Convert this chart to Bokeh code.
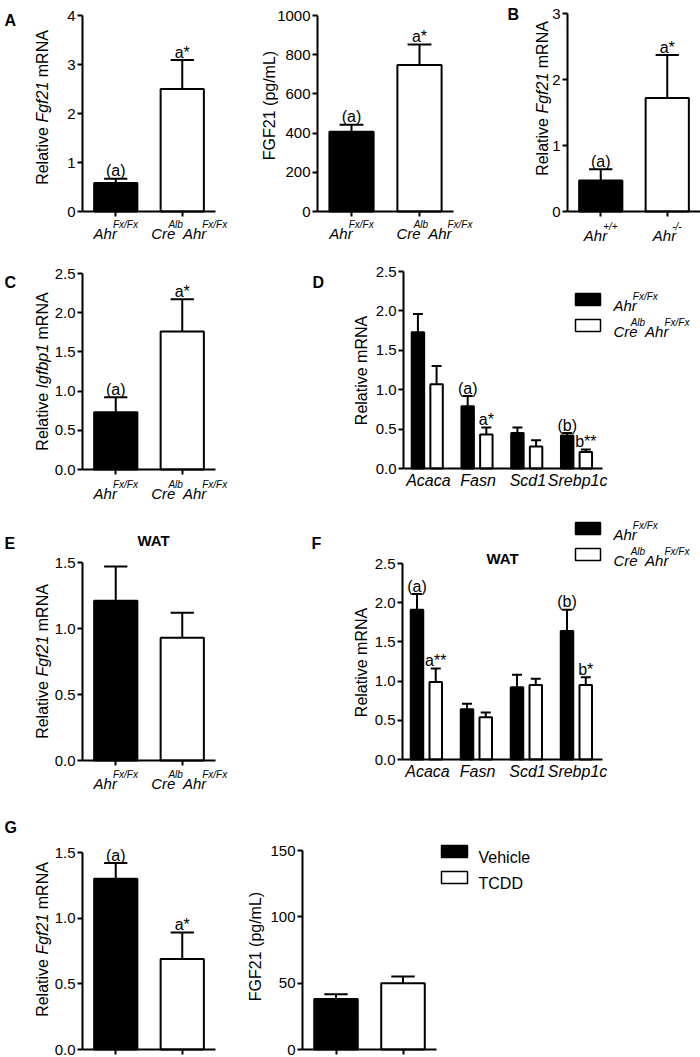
import math
from bokeh.plotting import figure
from bokeh.models import Range1d, FixedTicker, PrintfTickFormatter, CustomJSTickFormatter, Label
from bokeh.layouts import row, column
from bokeh.embed import file_html
from bokeh.resources import INLINE

FONT = "Liberation Sans"

# ---------------- data ----------------
# genotype tick labels as (base, superscript) pieces
lbl_ctrl = [("Ahr", "Fx/Fx")]
lbl_cko = [("Cre", "Alb"), ("Ahr", "Fx/Fx")]
lbl_wt = [("Ahr", "+/+")]
lbl_null = [("Ahr", "-/-")]
genes = ["Acaca", "Fasn", "Scd1", "Srebp1c"]
treat = ["Vehicle", "TCDD"]

# A: liver Fgf21 mRNA / serum FGF21
a1_mean = [0.58, 2.50]
a1_err = [0.09, 0.59]
a1_sig = ["(a)", "a*"]
a2_mean = [407, 748]
a2_err = [36, 104]
a2_sig = ["(a)", "a*"]
# B
b_mean = [0.47, 1.72]
b_err = [0.17, 0.65]
b_sig = ["(a)", "a*"]
# C
c_mean = [0.73, 1.76]
c_err = [0.19, 0.41]
c_sig = ["(a)", "a*"]
# D (liver lipogenic genes)
d_fx = [1.73, 0.79, 0.45, 0.42]
d_fx_err = [0.23, 0.13, 0.07, 0.03]
d_cko = [1.07, 0.43, 0.28, 0.21]
d_cko_err = [0.23, 0.09, 0.08, 0.03]
d_fx_sig = ["", "(a)", "", "(b)"]
d_cko_sig = ["", "a*", "", "b**"]
# E (WAT Fgf21)
e_mean = [1.21, 0.93]
e_err = [0.26, 0.19]
# F (WAT lipogenic genes)
f_fx = [1.91, 0.64, 0.92, 1.64]
f_fx_err = [0.20, 0.07, 0.16, 0.27]
f_cko = [0.99, 0.54, 0.95, 0.95]
f_cko_err = [0.17, 0.06, 0.08, 0.10]
f_fx_sig = ["(a)", "", "", "(b)"]
f_cko_sig = ["a**", "", "", "b*"]
# G (TCDD)
g1_mean = [1.30, 0.69]
g1_err = [0.12, 0.20]
g1_sig = ["(a)", "a*"]
g2_mean = [38, 50]
g2_err = [3.7, 5.0]

# ---------------- helpers ----------------
ADV = {" ": 278, "(": 333, ")": 333, "*": 389, "+": 584, "-": 333, "/": 278, ".": 278,
       "A": 667, "C": 722, "D": 722, "F": 611, "G": 778, "I": 278, "L": 556, "N": 722,
       "R": 722, "S": 667, "T": 611, "V": 667, "W": 944,
       "a": 556, "b": 556, "c": 500, "e": 556, "f": 278, "g": 556, "h": 556, "i": 222,
       "l": 222, "m": 833, "n": 556, "p": 556, "r": 333, "s": 500, "t": 278, "v": 500, "x": 500}


def tw(text, size):
    return sum(ADV.get(ch, 556) for ch in text) * size / 1000.0


def label(p, x, y, text, size, style="normal", align="left", angle=0.0):
    p.add_layout(Label(x=x, y=y, text=text, angle=angle, text_font=FONT,
                       text_font_size=f"{size}px", text_font_style=style,
                       text_align=align, text_baseline="alphabetic", text_color="black"))


class Panel:
    """One sub-chart; geometry given in page pixels.
    The frame fills the whole figure; axes sit at data 0 via fixed_location."""

    def __init__(self, box, axes, nx, ymax, ystep, yfmt, names=None):
        fx0, fy0, fx1, fy1 = box
        axl, axt, axr, axb = axes
        self.axl, self.axt, self.axb = axl, axt, axb
        self.ppx = (axr - axl) / nx
        self.ppy = (axb - axt) / ymax
        p = figure(width=fx1 - fx0, height=fy1 - fy0, title=None, output_backend="svg",
                   toolbar_location=None,
                   x_range=Range1d((fx0 - axl) / self.ppx, (fx1 - axl) / self.ppx),
                   y_range=Range1d((axb - fy1) / self.ppy, (axb - fy0) / self.ppy),
                   min_border_left=0, min_border_right=0, min_border_top=0,
                   min_border_bottom=0)
        p.background_fill_color = "white"
        p.border_fill_color = "white"
        p.outline_line_color = None
        p.xgrid.visible = False
        p.ygrid.visible = False
        for ax in (p.xaxis[0], p.yaxis[0]):
            ax.fixed_location = 0
            ax.axis_line_width = 2
            ax.axis_line_color = "black"
            ax.major_tick_line_width = 2
            ax.major_tick_line_color = "black"
            ax.major_tick_in = 0
            ax.minor_tick_line_color = None
            ax.major_label_text_font = FONT
            ax.major_label_text_color = "black"
        nt = int(round(ymax / ystep))
        ya = p.yaxis[0]
        ya.bounds = (0, ymax)
        ya.ticker = FixedTicker(ticks=[i * ystep for i in range(nt + 1)])
        ya.formatter = PrintfTickFormatter(format=yfmt)
        ya.major_tick_out = 5
        ya.major_label_standoff = 2
        ya.major_label_text_font_size = "15px"
        xa = p.xaxis[0]
        xa.bounds = (0, nx)
        xa.ticker = FixedTicker(ticks=[i + 0.5 for i in range(nx)])
        if names:
            xa.formatter = CustomJSTickFormatter(args=dict(names=names),
                                                 code="return names[Math.floor(tick)];")
            xa.major_label_text_font_style = "italic"
            xa.major_label_text_font_size = "16px"
            xa.major_tick_out = 0
            xa.major_tick_line_color = None
            xa.major_label_standoff = 3
        else:
            xa.formatter = CustomJSTickFormatter(code="return '';")
            xa.major_label_text_font_size = "1px"
            xa.major_label_standoff = 0
            xa.major_tick_out = 5
        self.p = p

    def X(self, rx):
        return (rx - self.axl) / self.ppx

    def Y(self, ry):
        return (self.axb - ry) / self.ppy

    def rx(self, x):
        return self.axl + x * self.ppx


BW2, CAP2 = 0.65, 0.35
BWG, CAPG = 0.25, 0.2
OFF_A, OFF_B = -0.21, 0.165
KERN = {"Cre": 7.0}   # superscript tucked against the italic base text
KERN_DEFAULT = 4.0


def draw_bars(pn, xs, means, errs, fill, bw, cap):
    p = pn.p
    tops = [m + e for m, e in zip(means, errs)]
    p.vbar(x=xs, top=means, bottom=0, width=bw, fill_color=fill,
           line_color="black", line_width=2)
    p.segment(x0=xs, y0=means, x1=xs, y1=tops, line_color="black", line_width=2)
    p.segment(x0=[x - cap / 2 for x in xs], y0=tops, x1=[x + cap / 2 for x in xs], y1=tops,
              line_color="black", line_width=2)
    return tops


def sig_labels(pn, xs, tops, texts):
    for x, t, s in zip(xs, tops, texts):
        if s:
            label(pn.p, x, t + 8 / pn.ppy, s, 16, align="center")


def two_bars(pn, means, errs, sig=None):
    xs = [0.5, 1.5]
    tops = draw_bars(pn, xs, means, errs, ["black", "white"], BW2, CAP2)
    if sig:
        sig_labels(pn, xs, tops, sig)


def grouped(pn, s1, e1, s2, e2, sig1, sig2):
    xs1 = [i + 0.5 + OFF_A for i in range(len(s1))]
    xs2 = [i + 0.5 + OFF_B for i in range(len(s2))]
    t1 = draw_bars(pn, xs1, s1, e1, "black", BWG, CAPG)
    t2 = draw_bars(pn, xs2, s2, e2, "white", BWG, CAPG)
    sig_labels(pn, xs1, t1, sig1)
    sig_labels(pn, xs2, t2, sig2)


def geno_width(parts, size=15, sup=10):
    return sum(tw(b, size) - KERN.get(b, KERN_DEFAULT) + tw(s, sup) for b, s in parts)


def geno_left(pn, parts, x_ref, base_ref, size=15, sup=10, rise=9):
    x = x_ref
    for b, s in parts:
        label(pn.p, pn.X(x), pn.Y(base_ref), b, size, "italic")
        x += tw(b, size) - KERN.get(b, KERN_DEFAULT)
        label(pn.p, pn.X(x), pn.Y(base_ref - rise), s, sup, "italic")
        x += tw(s, sup)


def geno_center(pn, parts, xdata, below, shift=0.0, size=15, sup=10):
    total = geno_width(parts, size, sup)
    geno_left(pn, parts, pn.rx(xdata) - total / 2 + shift, pn.axb + below, size, sup)


def vtitle(pn, base_x, center_y, parts, size=16):
    total = sum(tw(t, size) for t, _ in parts)
    y = center_y + total / 2
    for t, st in parts:
        lead = len(t) - len(t.lstrip())
        y -= tw(t[:lead], size)
        label(pn.p, pn.X(base_x), pn.Y(y), t.strip(), size, st, angle=math.pi / 2)
        y -= tw(t[lead:], size)


def letter(pn, text, x_ref, base_ref):
    label(pn.p, pn.X(x_ref), pn.Y(base_ref), text, 16, "bold")


def swatch(pn, l, t, r, b, fill):
    pn.p.quad(left=pn.X(l), right=pn.X(r), top=pn.Y(t), bottom=pn.Y(b),
              fill_color=fill, line_color="black", line_width=1.5)


FGF21_T = [("Relative ", "normal"), ("Fgf21", "italic"), (" mRNA", "normal")]
IGF_T = [("Relative ", "normal"), ("Igfbp1", "italic"), (" mRNA", "normal")]
PROT_T = [("FGF21 (pg/mL)", "normal")]
REL_T = [("Relative mRNA", "normal")]

# ---------------- row 1 ----------------
A1 = Panel((0, 0, 253, 262), (82, 15, 215, 211), 2, 4, 1, "%d")
two_bars(A1, a1_mean, a1_err, a1_sig)
vtitle(A1, 42, 107, FGF21_T)
geno_center(A1, lbl_ctrl, 0.5, 22)
geno_center(A1, lbl_cko, 1.5, 22, shift=7)
letter(A1, "A", 4, 20)

A2 = Panel((253, 0, 498, 262), (317, 15, 453, 211), 2, 1000, 200, "%d")
two_bars(A2, a2_mean, a2_err, a2_sig)
vtitle(A2, 269, 105, PROT_T)
geno_center(A2, lbl_ctrl, 0.5, 22)
geno_center(A2, lbl_cko, 1.5, 22, shift=15)

B = Panel((498, 0, 700, 262), (567, 13, 700, 211), 2, 3, 1, "%d")
two_bars(B, b_mean, b_err, b_sig)
vtitle(B, 542, 98, FGF21_T)
geno_center(B, lbl_wt, 0.5, 24)
geno_center(B, lbl_null, 1.5, 24)
letter(B, "B", 507, 14)

# ---------------- row 2 ----------------
C = Panel((0, 262, 308, 508), (82, 273, 215, 469), 2, 2.5, 0.5, "%.1f")
two_bars(C, c_mean, c_err, c_sig)
vtitle(C, 42, 371, IGF_T)
geno_center(C, lbl_ctrl, 0.5, 24)
geno_center(C, lbl_cko, 1.5, 24, shift=7)
letter(C, "C", 4, 282)

D = Panel((308, 262, 700, 508), (403, 271, 602, 468), 4, 2.5, 0.5, "%.1f", names=genes)
grouped(D, d_fx, d_fx_err, d_cko, d_cko_err, d_fx_sig, d_cko_sig)
vtitle(D, 361, 370, REL_T)
letter(D, "D", 312, 282)
swatch(D, 575, 293, 600, 305, "black")
swatch(D, 575, 319, 600, 331, "white")
geno_left(D, lbl_ctrl, 613, 305)
geno_left(D, lbl_cko, 613, 331)

# ---------------- row 3 ----------------
E = Panel((0, 508, 308, 800), (82, 562, 215, 760), 2, 1.5, 0.5, "%.1f")
two_bars(E, e_mean, e_err)
vtitle(E, 42, 661, FGF21_T)
geno_center(E, lbl_ctrl, 0.5, 23)
geno_center(E, lbl_cko, 1.5, 23, shift=7)
label(E.p, E.X(153), E.Y(540), "WAT", 15, "bold", align="center")
letter(E, "E", 4, 543)

F = Panel((308, 508, 700, 800), (402, 563, 602, 759), 4, 2.5, 0.5, "%.1f", names=genes)
grouped(F, f_fx, f_fx_err, f_cko, f_cko_err, f_fx_sig, f_cko_sig)
vtitle(F, 361, 662, REL_T)
label(F.p, F.X(502), F.Y(558), "WAT", 15, "bold", align="center")
letter(F, "F", 311, 543)
swatch(F, 575, 522, 600, 534, "black")
swatch(F, 575, 548, 600, 560, "white")
geno_left(F, lbl_ctrl, 613, 534)
geno_left(F, lbl_cko, 613, 560)

# ---------------- row 4 ----------------
G1 = Panel((0, 800, 233, 1057), (82, 852, 215, 1049), 2, 1.5, 0.5, "%.1f")
two_bars(G1, g1_mean, g1_err, g1_sig)
vtitle(G1, 42, 939, FGF21_T)
letter(G1, "G", 4, 827)

G2 = Panel((233, 800, 700, 1057), (302, 850, 436, 1049), 2, 150, 50, "%d")
two_bars(G2, g2_mean, g2_err)
vtitle(G2, 255, 946, PROT_T)
swatch(G2, 441, 845, 467, 857, "black")
swatch(G2, 441, 871, 467, 883, "white")
label(G2.p, G2.X(478), G2.Y(857), treat[0], 16)
label(G2.p, G2.X(478), G2.Y(883), treat[1], 16)

layout = column(row(A1.p, A2.p, B.p), row(C.p, D.p), row(E.p, F.p), row(G1.p, G2.p))
open("out.html", "w").write(file_html(layout, INLINE))
